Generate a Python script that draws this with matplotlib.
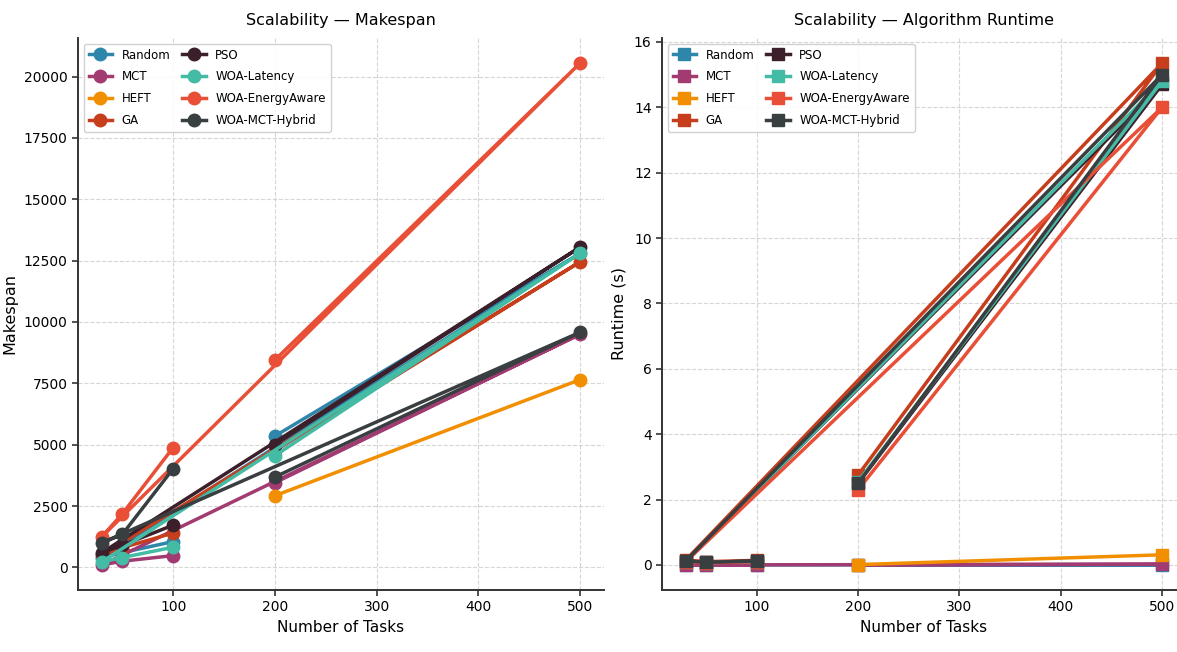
import numpy as np
import matplotlib
matplotlib.use("Agg")
import matplotlib.pyplot as plt

plt.rcParams['font.family'] = ['DejaVu Sans']

# Data order as recorded (large runs first, then small runs)
tasks = [200, 500, 30, 50, 100]
algorithms = ['Random', 'MCT', 'HEFT', 'GA', 'PSO', 'WOA-Latency', 'WOA-EnergyAware', 'WOA-MCT-Hybrid']
colors = ['#2E86AB', '#A23B72', '#F18F01', '#C73E1D', '#3B1F2B', '#44BBA4', '#E94F37', '#393E41']

nan = np.nan
makespan_random = [5350, 12800, 400, 600, 1050]
makespan_mct = [3450, 9500, 100, 250, 480]
makespan_heft = [2920, 7650, nan, nan, nan]
makespan_ga = [4750, 12450, 500, 800, 1400]
makespan_pso = [5000, 13050, 600, 900, 1720]
makespan_woa_latency = [4550, 12800, 230, 400, 820]
makespan_woa_energy = [8450, 20550, 1250, 2180, 4880]
makespan_woa_mct = [3680, 9580, 1000, 1340, 4020]

runtime_random = [0.002, 0.005, 0.001, 0.001, 0.001]
runtime_mct = [0.005, 0.02, 0.001, 0.001, 0.002]
runtime_heft = [0.01, 0.31, nan, nan, nan]
runtime_ga = [2.75, 15.35, 0.15, 0.10, 0.14]
runtime_pso = [2.50, 14.70, 0.12, 0.08, 0.12]
runtime_woa_latency = [2.55, 14.80, 0.10, 0.07, 0.10]
runtime_woa_energy = [2.30, 14.00, 0.10, 0.07, 0.10]
runtime_woa_mct = [2.50, 15.00, 0.12, 0.08, 0.12]

makespan = [makespan_random, makespan_mct, makespan_heft, makespan_ga, makespan_pso,
            makespan_woa_latency, makespan_woa_energy, makespan_woa_mct]
runtime = [runtime_random, runtime_mct, runtime_heft, runtime_ga, runtime_pso,
           runtime_woa_latency, runtime_woa_energy, runtime_woa_mct]

W, H = 1177, 652
fig = plt.figure(figsize=(W / 100, H / 100), dpi=100)
ax1 = fig.add_axes([78 / W, 62 / H, (604 - 78) / W, 552 / H])
ax2 = fig.add_axes([662 / W, 62 / H, (1186 - 662) / W, 552 / H])

def style(ax):
    ax.grid(True, linestyle='--', color='#cccccc', linewidth=0.8, alpha=0.8)
    ax.set_axisbelow(True)
    for s in ['top', 'right']:
        ax.spines[s].set_visible(False)
    for s in ['left', 'bottom']:
        ax.spines[s].set_color('#333333')
        ax.spines[s].set_linewidth(1.4)
    ax.tick_params(labelsize=10, color='#333333', width=1.2, length=4)

for name, c, y in zip(algorithms, colors, makespan):
    ax1.plot(tasks, y, marker='o', color=c, label=name, linewidth=2.5, markersize=9)
for name, c, y in zip(algorithms, colors, runtime):
    ax2.plot(tasks, y, marker='s', color=c, label=name, linewidth=2.5, markersize=9)

for ax, title, ylabel, lx in [(ax1, 'Scalability — Makespan', 'Makespan', -0.115),
                              (ax2, 'Scalability — Algorithm Runtime', 'Runtime (s)', -0.068)]:
    style(ax)
    ax.set_title(title, fontsize=11.5, pad=9)
    ax.set_xlabel('Number of Tasks', fontsize=11)
    ax.set_ylabel(ylabel, fontsize=11.5)
    ax.yaxis.set_label_coords(lx, 0.5)
    ax.legend(ncol=2, loc='upper left', fontsize=8.5, frameon=True, framealpha=0.9,
              edgecolor='#cccccc', handlelength=2.0, columnspacing=1.0, labelspacing=0.75)

fig.savefig('out.png', dpi=100)
